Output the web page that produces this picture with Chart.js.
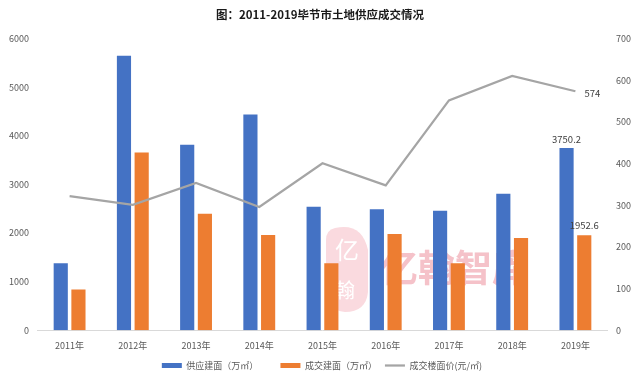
<!DOCTYPE html>
<html>
<head>
<meta charset="utf-8">
<script src="https://cdn.jsdelivr.net/npm/chart.js@4/dist/chart.umd.min.js"></script>
<style>
  html, body { margin: 0; padding: 0; background: #fff; }
  #wrap { width: 640px; height: 384px; }
</style>
</head>
<body>
<div id="wrap"><canvas id="chart" width="640" height="384"></canvas></div>
<script>
const years = ['2011年', '2012年', '2013年', '2014年', '2015年', '2016年', '2017年', '2018年', '2019年'];
const supplyArea = [1380, 5650, 3820, 4440, 2540, 2490, 2460, 2810, 3750.2];
const dealArea = [840, 3660, 2400, 1960, 1380, 1980, 1380, 1900, 1952.6];
const dealPrice = [322, 301, 354, 296, 401, 348, 552, 611, 574];

const fontFamily = '"Noto Sans CJK SC", "Microsoft YaHei", sans-serif';

// faint watermark behind the bars
const watermark = {
    id: 'watermark',
    afterLayout(chart) {
        // nudge legend a bit right, the original isn't quite centred
        chart.legend.left += 9;
        chart.legend.right += 9;
    },
    beforeDatasetsDraw(chart) {
        const ctx = chart.ctx;
        ctx.save();
        ctx.fillStyle = '#fadadf';
        ctx.beginPath();
        ctx.moveTo(335, 228);
        ctx.quadraticCurveTo(362, 222, 368, 250);
        ctx.lineTo(368, 292);
        ctx.quadraticCurveTo(366, 312, 345, 312);
        ctx.quadraticCurveTo(326, 310, 326, 290);
        ctx.lineTo(326, 240);
        ctx.quadraticCurveTo(326, 230, 335, 228);
        ctx.fill();
        ctx.fillStyle = '#ffffff';
        ctx.font = '24px ' + fontFamily;
        ctx.textAlign = 'center';
        ctx.textBaseline = 'middle';
        ctx.fillText('亿', 347, 250);
        ctx.font = '20px ' + fontFamily;
        ctx.fillText('翰', 345, 290);
        ctx.fillStyle = '#f5c2c9';
        ctx.font = 'bold 37px ' + fontFamily;
        ctx.textAlign = 'left';
        ctx.fillText('亿翰智库', 381, 268);
        ctx.restore();
    }
};

// labels only on the last category, like the original
const lastLabels = {
    id: 'lastLabels',
    afterDatasetsDraw(chart) {
        const ctx = chart.ctx;
        const n = years.length - 1;
        ctx.save();
        ctx.font = '9.5px ' + fontFamily;
        ctx.fillStyle = '#404040';
        ctx.textAlign = 'center';
        ctx.textBaseline = 'bottom';
        const b0 = chart.getDatasetMeta(0).data[n];
        ctx.fillText(String(supplyArea[n]), b0.x, b0.y - 4);
        const b1 = chart.getDatasetMeta(1).data[n];
        ctx.fillText(String(dealArea[n]), b1.x, b1.y - 5);
        const p = chart.getDatasetMeta(2).data[n];
        ctx.textAlign = 'left';
        ctx.textBaseline = 'middle';
        ctx.fillText(String(dealPrice[n]), p.x + 9, p.y + 2);
        ctx.restore();
    }
};

new Chart(document.getElementById('chart').getContext('2d'), {
    type: 'bar',
    data: {
        labels: years,
        datasets: [{
            label: '供应建面（万㎡）',
            data: supplyArea,
            backgroundColor: '#4472C4',
            pointStyle: 'rect',
            yAxisID: 'y',
            order: 2
        }, {
            label: '成交建面（万㎡）',
            data: dealArea,
            backgroundColor: '#ED7D31',
            pointStyle: 'rect',
            yAxisID: 'y',
            order: 2
        }, {
            type: 'line',
            label: '成交楼面价(元/㎡)',
            data: dealPrice,
            borderColor: '#A5A5A5',
            backgroundColor: '#A5A5A5',
            borderWidth: 2.25,
            pointRadius: 0,
            pointStyle: 'line',
            tension: 0,
            yAxisID: 'y1',
            order: 1
        }]
    },
    options: {
        responsive: false,
        animation: false,
        categoryPercentage: 0.56,
        barPercentage: 0.8,
        layout: { padding: { left: 0, right: 0, top: 2, bottom: 4 } },
        plugins: {
            title: {
                display: true,
                text: '图：2011-2019毕节市土地供应成交情况',
                color: '#1a1a1a',
                font: { family: fontFamily, size: 11.5, weight: 'bold' },
                padding: { top: 6, bottom: 17 }
            },
            legend: {
                position: 'bottom',
                labels: {
                    usePointStyle: true,
                    pointStyleWidth: 20,
                    boxHeight: 5,
                    padding: 8,
                    color: '#595959',
                    font: { family: fontFamily, size: 9 },
                    sort: (a, b) => a.datasetIndex - b.datasetIndex,
                    generateLabels(chart) {
                        const items = Chart.defaults.plugins.legend.labels.generateLabels(chart);
                        items.forEach((it, i) => {
                            if (i < items.length - 1) it.text = it.text + '       ';
                        });
                        return items;
                    }
                }
            },
            tooltip: { enabled: false }
        },
        scales: {
            x: {
                grid: { display: false, drawTicks: false },
                border: { display: true, color: '#d9d9d9' },
                ticks: { color: '#595959', font: { family: fontFamily, size: 9 }, padding: 10 },
                afterFit(scale) { scale.height -= 8; }
            },
            y: {
                position: 'left',
                min: 0,
                max: 6000,
                grid: { display: false, drawTicks: false },
                border: { display: false },
                ticks: {
                    stepSize: 1000,
                    color: '#595959',
                    font: { family: fontFamily, size: 9 },
                    padding: 9,
                    callback: v => String(v)
                }
            },
            y1: {
                position: 'right',
                min: 0,
                max: 700,
                grid: { display: false, drawTicks: false },
                border: { display: false },
                ticks: {
                    stepSize: 100,
                    color: '#595959',
                    font: { family: fontFamily, size: 9 },
                    padding: 9,
                    callback: v => String(v)
                }
            }
        }
    },
    plugins: [watermark, lastLabels]
});
</script>
</body>
</html>
